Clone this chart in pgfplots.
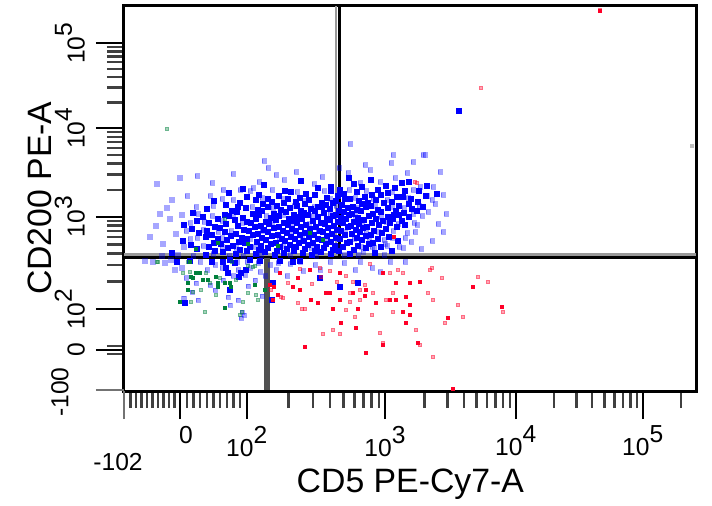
\documentclass[border=0pt]{standalone}
\usepackage{fontspec}
\setmainfont{Liberation Sans}
\usepackage{pgfplots}
\pgfplotsset{compat=1.18}
\definecolor{fblue}{RGB}{0,0,255}
\definecolor{fred}{RGB}{255,0,40}
\definecolor{fgreen}{RGB}{0,128,60}
\newcommand{\sups}[1]{10\raisebox{0.52em}{#1}}
\begin{document}
\begin{tikzpicture}
\begin{axis}[
  x=0.5pt, y=0.5pt,
  xmin=124, xmax=696.7, ymin=5.5, ymax=391,
  y dir=reverse,
  clip=false,
  axis line style={line width=1.5pt},
  tick align=outside, xtick pos=bottom, ytick pos=left,
  major tick length=14pt, minor tick length=8.5pt,
  major tick style={line width=1pt, black},
  minor tick style={line width=1.2pt, black!75},
  xtick={180,246.7,385,515.7,642.7},
  xticklabels={\hspace*{6pt}0,\sups{2},\sups{3},\sups{4},\sups{5}},
  minor xtick={130.6,136.1,141.6,147.1,152.5,158.0,163.5,169.0,174.5,186.7,193.3,200,206.7,213.3,220,226.7,233.3,240,288.3,312.7,330.0,343.4,354.3,363.6,371.6,378.7,424.3,447.4,463.7,476.4,486.7,495.5,503.0,509.7,553.9,576.3,592.2,604.5,614.5,623.0,630.4,636.9,680.9},
  ytick={350,309.3,216.7,128.3,43.3},
  yticklabels={0,\sups{2},\sups{3},\sups{4},\sups{5}},
  minor ytick={281.4,265.1,253.6,244.6,237.2,231.0,225.7,220.9,190.1,174.5,163.5,154.9,147.9,142.0,136.9,132.3,102.7,87.7,77.1,68.9,62.2,56.5,51.5,47.2,346,354},
  extra x ticks={124}, extra x tick labels={},
  extra x tick style={major tick style={black!55, line width=1.2pt}},
  extra y ticks={390}, extra y tick labels={},
  extra y tick style={major tick style={black!55, line width=1.2pt}},
  ticklabel style={font=\fontsize{12.3}{13}\selectfont},
  yticklabel style={rotate=90, anchor=south},
  yticklabel shift=2pt,
  xlabel={CD5 PE-Cy7-A},
  ylabel={CD200 PE-A},
  label style={font=\fontsize{16.9}{18}\selectfont},
  xlabel style={at={(axis description cs:0.5,-0.2413)}, anchor=center},
  ylabel style={at={(axis description cs:-0.1467,0.5)}, anchor=center},
]
\path (axis cs:0,0) rectangle (axis cs:712,495);
% light blue
\addplot[only marks, mark=square*, mark size=1.05pt, color=fblue, opacity=0.35] coordinates {
(350,144) (393,155) (425,155) (365,165) (370,170) (348,173) (407,173) (420,187) (433,187) (443,195) (428,212) (443,232) (360,183) (264,161) (276,175) (268,168) (296,172) (322,177) (339,168) (391,163) (413,162) (440,172) (197,176) (212,183) (180,178) (157,184) (233,174) (160,214) (167,208) (187,196) (210,196) (240,190) (259,182) (284,180) (253,188) (314,184) (223,190) (172,200) (156,226) (163,244) (150,237) (176,234) (170,219) (435,204) (446,214) (438,224) (432,241) (421,249) (415,232) (427,196) (411,242) (403,248) (392,238) (385,244) (372,247) (363,252) (417,225) (380,182) (395,178) (423,155)
(250,191) (272,190) (297,192) (324,191) (349,190) (366,191) (392,192) (413,190)
(222,199) (233,200) (262,198) (283,199) (304,201) (330,199) (355,198) (373,199) (387,200) (408,198) (432,200)
(196,207) (213,206) (252,207) (273,208) (294,206) (314,207) (336,206) (358,208) (375,206) (392,207) (404,208) (419,206)
(182,215) (198,214) (212,216) (233,214) (266,216) (283,215) (313,216) (330,214) (355,216) (381,217) (413,214) (422,216)
(190,223) (204,222) (222,221) (242,223) (272,222) (291,223) (309,224) (341,222) (362,223) (386,222) (398,224) (414,223)
(186,231) (203,230) (218,232) (231,231) (262,231) (291,232) (318,231) (345,232) (366,231) (378,232) (393,231) (407,233)
(190,239) (197,238) (222,238) (250,239) (279,238) (302,238) (325,240) (354,239) (369,238) (384,240) (405,238)
(184,247) (203,246) (222,247) (236,248) (255,247) (283,246) (311,248) (338,247) (361,247) (374,248) (387,246) (399,247)
(162,256) (178,255) (193,256) (213,254) (229,256) (243,256) (261,255) (290,255) (316,256) (344,255) (358,255) (384,255)
(145,261) (153,262) (165,263) (171,260) (182,268) (200,262) (207,270) (215,265) (222,268) (237,262) (238,270) (245,275) (250,268) (255,280) (260,272) (265,276) (270,265) (247,262) (215,290) (228,297) (238,300) (242,312) (244,315) (175,270) (186,278) (196,283) (210,285) (223,280) (233,276) (248,286) (258,263) (278,263) (290,264) (300,262) (315,265) (330,262) (344,263) (360,262) (372,268) (390,262) (405,262) (380,272) (303,271) (276,270) (287,276) (320,270) (355,270) (192,292) (184,298) (198,300) (230,305) (241,318) (262,296)
};
% dark blue
\addplot[only marks, mark=square*, mark size=1.1pt, color=fblue] coordinates {
(301,181) (349,178) (371,180) (409,182) (459,111) (403,197)
(264,185) (331,187) (354,184) (386,186) (402,183) (427,186)
(243,189) (285,191) (318,188) (340,190) (362,187) (378,190) (395,188) (419,191)
(229,193) (259,195) (291,192) (306,194) (331,191) (344,194) (357,192) (372,195) (388,193) (405,191) (437,194)
(247,197) (268,199) (279,196) (300,198) (315,195) (327,198) (338,196) (350,199) (365,197) (381,195) (397,197) (411,199) (426,196)
(214,201) (240,203) (256,200) (272,202) (288,199) (296,202) (309,200) (322,203) (336,201) (345,199) (359,201) (368,203) (376,200) (392,202) (418,202)
(226,205) (238,207) (263,204) (277,206) (284,203) (297,206) (305,204) (318,207) (326,205) (333,203) (342,205) (353,207) (362,204) (371,206) (384,203) (399,206) (409,204) (423,207)
(207,209) (232,211) (246,208) (258,210) (268,207) (281,210) (290,208) (301,211) (311,209) (322,207) (330,209) (339,211) (348,208) (357,210) (366,207) (378,210) (388,208) (396,211) (412,209)
(193,213) (225,215) (237,212) (253,214) (262,211) (274,214) (286,212) (294,215) (304,213) (315,211) (324,213) (336,215) (344,212) (352,214) (361,211) (373,214) (381,212) (394,215) (404,213) (417,211)
(203,217) (218,219) (229,216) (243,218) (259,215) (271,218) (279,216) (289,219) (299,217) (308,215) (318,217) (327,219) (333,216) (341,218) (349,215) (358,218) (369,216) (376,219) (388,217) (399,215) (409,217)
(197,221) (209,223) (235,220) (247,222) (256,219) (266,222) (276,220) (284,223) (294,221) (302,219) (313,221) (321,223) (330,220) (338,222) (346,219) (354,222) (364,220) (372,223) (383,221) (393,219) (402,221)
(184,225) (215,227) (226,224) (238,226) (251,223) (261,226) (269,224) (279,227) (288,225) (297,223) (306,225) (316,227) (325,224) (334,226) (343,223) (351,226) (359,224) (367,227) (379,225) (390,223) (405,225)
(192,229) (207,231) (220,228) (244,230) (255,227) (264,230) (274,228) (283,231) (292,229) (301,227) (310,229) (320,231) (328,228) (337,230) (348,227) (356,230) (363,228) (374,231) (386,229) (397,227)
(199,233) (212,235) (225,232) (236,234) (249,231) (258,234) (268,232) (278,235) (287,233) (296,231) (305,233) (314,235) (323,232) (332,234) (341,231) (352,234) (360,232) (371,235) (382,233)
(206,237) (218,239) (231,236) (242,238) (253,235) (262,238) (272,236) (282,239) (291,237) (300,235) (309,237) (318,239) (327,236) (336,238) (345,235) (357,238) (366,236) (378,239) (389,237)
(183,241) (214,243) (227,240) (239,242) (247,239) (257,242) (266,240) (276,243) (285,241) (295,239) (304,241) (313,243) (322,240) (331,242) (340,239) (350,242) (362,240) (373,243) (398,241)
(191,245) (209,247) (221,244) (233,246) (245,243) (261,246) (271,244) (280,247) (290,245) (299,243) (308,245) (317,247) (326,244) (335,246) (347,243) (358,246) (369,244) (381,247)
(197,249) (215,251) (228,248) (240,250) (250,247) (259,250) (268,248) (277,251) (287,249) (296,247) (305,249) (315,251) (324,248) (333,250) (343,247) (354,250) (366,248) (392,251)
(172,253) (206,255) (223,252) (236,254) (247,251) (256,254) (265,252) (275,255) (284,253) (294,251) (303,253) (312,255) (321,252) (331,254) (339,251) (350,254) (375,253)
(177,262) (223,262) (235,263) (241,273) (230,290) (185,303) (272,300) (273,283) (320,278) (340,287) (358,283) (228,273) (250,260) (260,261) (280,261) (293,262) (300,261) (230,260) (212,262) (190,261) (246,270) (239,277) (226,268)
};
% light red
\addplot[only marks, mark=square*, mark size=0.85pt, color=fred, opacity=0.35] coordinates {
(271,290) (281,297) (283,298) (298,303) (302,309) (305,309) (321,277) (350,302) (333,330) (323,334) (340,334) (355,317) (373,293) (380,333) (383,343) (390,273) (403,273) (386,300) (393,293) (416,330) (430,270) (433,300) (433,357) (445,323) (463,317) (478,277) (503,312) (393,312) (420,345) (350,293) (365,285) (360,290) (353,282) (600,10) (481,88) (415,182) (417,183) (432,268) (320,268) (330,271) (346,276) (370,264) (398,270) (300,269) (288,283) (312,284) (337,282) (360,300) (346,310) (372,315) (428,293) (458,305) (488,282) (442,278)
};
% dark red
\addplot[only marks, mark=square*, mark size=0.8pt, color=fred] coordinates {
(280,273) (274,287) (278,295) (273,300) (298,278) (300,290) (310,270) (311,300) (318,303) (326,293) (330,293) (340,300) (353,293) (340,273) (366,290) (365,296) (376,303) (383,273) (396,283) (410,283) (396,300) (406,297) (410,305) (420,282) (410,315) (403,312) (406,323) (418,343) (383,345) (358,309) (356,328) (305,347) (341,323) (366,353) (448,318) (453,389) (394,237) (502,307) (473,287) (333,309) (390,300) (293,287) (270,285) (600,11)
};
% light green
\addplot[only marks, mark=square*, mark size=0.85pt, color=fgreen, opacity=0.35] coordinates {
(167,129) (201,290) (193,292) (206,273) (216,295) (220,278) (248,293) (256,295) (258,300) (191,302) (205,312) (240,315) (242,312) (158,262) (188,262) (248,266) (255,266) (183,273) (190,272) (210,283) (225,219) (157,262) (232,262) (253,267) (243,302) (236,280)
};
% dark green
\addplot[only marks, mark=square*, mark size=0.8pt, color=fgreen] coordinates {
(193,278) (196,273) (188,283) (208,280) (218,283) (225,283) (230,283) (188,290) (218,287) (255,285) (265,290) (180,302) (225,308) (196,249) (218,243) (248,244) (278,246) (310,233) (323,240) (190,262) (191,277) (200,273) (231,287) (203,280) (216,277)
};
% gray event
\addplot[only marks, mark=square*, mark size=0.7pt, color=black!25] coordinates {(692,146)};
% quadrant gates
\draw[black!40, line width=1.4pt] (axis cs:124,254.8) -- (axis cs:696,254.8);
\draw[black, line width=1.6pt] (axis cs:124,257.8) -- (axis cs:696,257.8);
\draw[black!40, line width=1.4pt] (axis cs:336,6) -- (axis cs:336,256);
\draw[black, line width=1.6pt] (axis cs:339.2,6) -- (axis cs:339.2,258);
\draw[black!68, line width=2.8pt] (axis cs:267,258) -- (axis cs:267,390);
\node[font=\fontsize{12.3}{13}\selectfont] at (axis cs:118,462) {-102};
\node[font=\fontsize{12.3}{13}\selectfont, rotate=90] at (axis cs:60,392) {-100};
\end{axis}
\end{tikzpicture}
\end{document}
